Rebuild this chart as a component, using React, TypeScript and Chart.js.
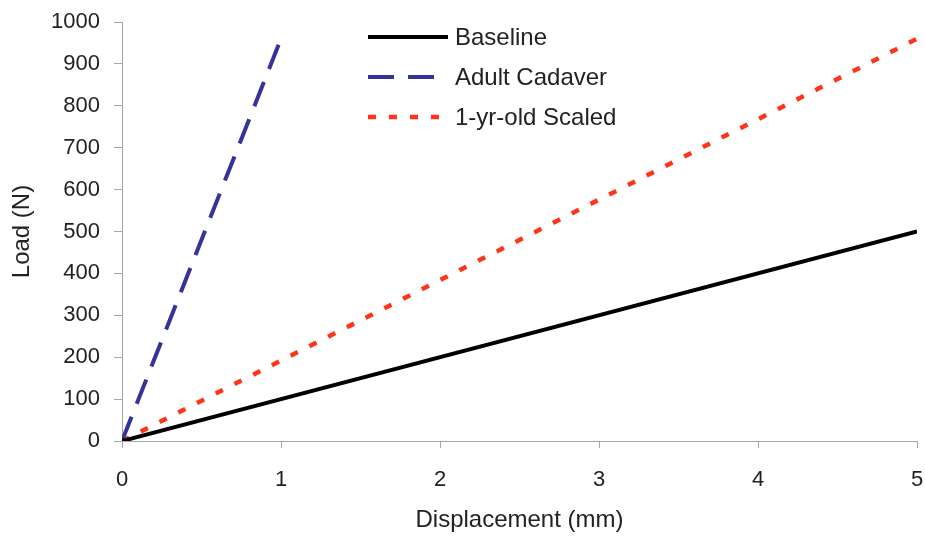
import React, { useEffect, useRef } from 'react';
import { Chart, registerables } from 'chart.js';

Chart.register(...registerables);

// ---- Data ----
const seriesNames = ['Baseline', 'Adult Cadaver', '1-yr-old Scaled'];
const baselineX = [0, 5];
const baselineY = [0, 500];
const adultX = [0, 1];
const adultY = [0, 960];
const scaledX = [0, 5];
const scaledY = [0, 960];
const xTicks = [0, 1, 2, 3, 4, 5];
const yTicks = [0, 100, 200, 300, 400, 500, 600, 700, 800, 900, 1000];
const xTitle = 'Displacement (mm)';
const yTitle = 'Load (N)';

const FONT = '"Liberation Sans", Arial, sans-serif';
const AXIS_COLOR = '#a6a6a6';
const TEXT_COLOR = '#222222';

const toPoints = (xs: number[], ys: number[]) => xs.map((x, i) => ({ x, y: ys[i] }));

const legendPlugin = {
  id: 'customLegend',
  afterDraw(chart: any) {
    const ctx = chart.ctx as CanvasRenderingContext2D;
    const x0 = 368;
    const x1 = 448;
    const tx = 455;
    const rows = [37, 77, 117];
    chart.data.datasets.forEach((ds: any, i: number) => {
      ctx.save();
      ctx.strokeStyle = ds.borderColor;
      ctx.lineWidth = ds.borderWidth;
      ctx.setLineDash(ds.borderDash || []);
      ctx.beginPath();
      ctx.moveTo(x0, rows[i]);
      ctx.lineTo(x1, rows[i]);
      ctx.stroke();
      ctx.setLineDash([]);
      ctx.fillStyle = TEXT_COLOR;
      ctx.font = `24px ${FONT}`;
      ctx.textBaseline = 'middle';
      ctx.textAlign = 'left';
      ctx.fillText(ds.label, tx, rows[i] + 1);
      ctx.restore();
    });
  },
};

export default function App() {
  const canvasRef = useRef<HTMLCanvasElement | null>(null);

  useEffect(() => {
    if (!canvasRef.current) return;
    const chart = new Chart(canvasRef.current, {
      type: 'scatter',
      data: {
        datasets: [
          {
            label: seriesNames[0],
            data: toPoints(baselineX, baselineY),
            showLine: true,
            borderColor: '#000000',
            backgroundColor: '#000000',
            borderWidth: 4,
            pointRadius: 0,
          },
          {
            label: seriesNames[1],
            data: toPoints(adultX, adultY),
            showLine: true,
            borderColor: '#333399',
            backgroundColor: '#333399',
            borderWidth: 4,
            borderDash: [26, 14],
            pointRadius: 0,
          },
          {
            label: seriesNames[2],
            data: toPoints(scaledX, scaledY),
            showLine: true,
            borderColor: '#ff3319',
            backgroundColor: '#ff3319',
            borderWidth: 4.5,
            borderDash: [8, 13],
            pointRadius: 0,
          },
        ],
      },
      options: {
        animation: false,
        responsive: false,
        layout: { padding: { top: 22, right: 8, left: 0, bottom: 0 } },
        plugins: {
          legend: { display: false },
          tooltip: { enabled: false },
        },
        scales: {
          x: {
            type: 'linear',
            min: 0,
            max: 5,
            afterBuildTicks: (scale: any) => {
              scale.ticks = xTicks.map((v) => ({ value: v }));
            },
            afterFit: (scale: any) => {
              scale.height = 95;
              scale.paddingRight = 0;
              scale.paddingLeft = 0;
            },
            grid: {
              display: true,
              drawOnChartArea: false,
              drawTicks: true,
              tickLength: 7,
              color: AXIS_COLOR,
            },
            border: { display: true, color: AXIS_COLOR, width: 1 },
            ticks: {
              color: TEXT_COLOR,
              font: { family: FONT, size: 22 },
              padding: 19,
              maxRotation: 0,
              callback: (v: any) => String(v),
            },
            title: {
              display: true,
              text: xTitle,
              color: TEXT_COLOR,
              font: { family: FONT, size: 24 },
              padding: { top: 0, bottom: 1 },
            },
          },
          y: {
            type: 'linear',
            min: 0,
            max: 1000,
            afterBuildTicks: (scale: any) => {
              scale.ticks = yTicks.map((v) => ({ value: v }));
            },
            afterFit: (scale: any) => {
              scale.width = 122;
              scale.paddingTop = 0;
              scale.paddingBottom = 0;
            },
            grid: {
              display: true,
              drawOnChartArea: false,
              drawTicks: true,
              tickLength: 8,
              color: AXIS_COLOR,
            },
            border: { display: true, color: AXIS_COLOR, width: 1 },
            ticks: {
              color: TEXT_COLOR,
              font: { family: FONT, size: 22 },
              padding: 14,
              callback: (v: any) => String(v),
            },
            title: {
              display: true,
              text: yTitle,
              color: TEXT_COLOR,
              font: { family: FONT, size: 24 },
              padding: { top: 8, bottom: 0 },
            },
          },
        },
      },
      plugins: [legendPlugin],
    });
    return () => chart.destroy();
  }, []);

  return (
    <div style={{ position: 'fixed', left: 0, top: 0, width: 925, height: 536, background: '#ffffff' }}>
      <canvas ref={canvasRef} width={925} height={536} />
    </div>
  );
}
